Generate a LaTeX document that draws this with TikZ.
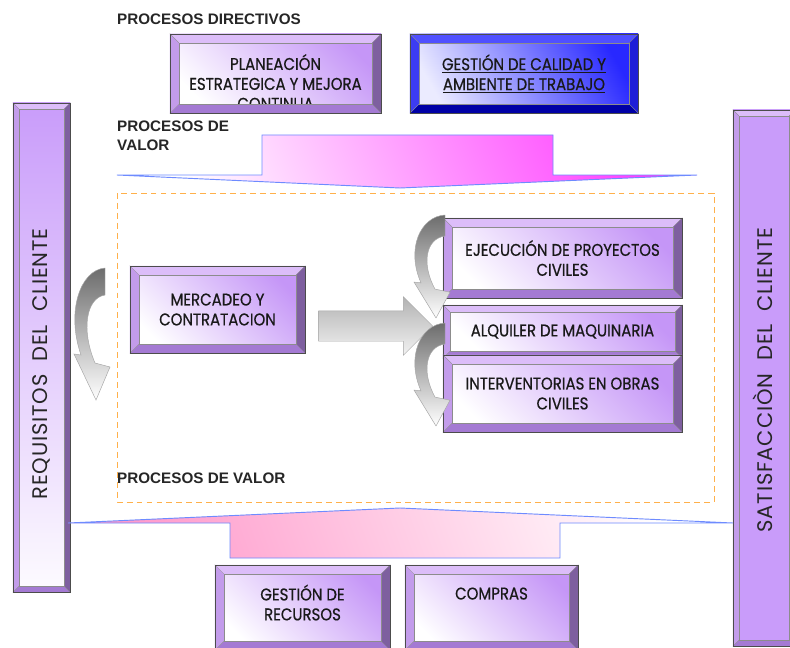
\documentclass[tikz,border=0pt]{standalone}
\usepackage{fontspec}
\setmainfont{Liberation Sans}
\newfontfamily\boxfont[FakeStretch=0.88, FakeBold=0.6]{Poppins}
\newfontfamily\barfont[LetterSpace=4]{Poppins}
\usepackage{tikz}
\usetikzlibrary{shapes.arrows, positioning, calc}

\definecolor{puface}{HTML}{C596F7}
\definecolor{putop}{HTML}{DCBDF9}
\definecolor{puleft}{HTML}{C39CEB}
\definecolor{puright}{HTML}{7E5F9F}
\definecolor{pubot}{HTML}{A47AD3}
\definecolor{blface}{HTML}{2828FF}
\definecolor{bltop}{HTML}{5050FF}
\definecolor{blleft}{HTML}{3C3CF2}
\definecolor{blright}{HTML}{1E1ED8}
\definecolor{blbot}{HTML}{0000A6}
\definecolor{magm}{HTML}{FF40FF}
\definecolor{pinkb}{HTML}{FF9ACB}
\definecolor{valline}{HTML}{6E8BFF}
\definecolor{frameor}{HTML}{FFB04A}
\definecolor{barpu}{HTML}{C99CFA}

% bevelled rim drawn over a box node: [rim width]{node}{colour prefix}
\newcommand\bevel[3][9]{%
  \fill[#3top] (#2.north west) -- (#2.north east) -- ([shift={(-#1,#1)}]#2.north east) -- ([shift={(#1,#1)}]#2.north west) -- cycle;
  \fill[#3bot] (#2.south west) -- (#2.south east) -- ([shift={(-#1,-#1)}]#2.south east) -- ([shift={(#1,-#1)}]#2.south west) -- cycle;
  \fill[#3left] (#2.north west) -- (#2.south west) -- ([shift={(#1,-#1)}]#2.south west) -- ([shift={(#1,#1)}]#2.north west) -- cycle;
  \fill[#3right] (#2.north east) -- (#2.south east) -- ([shift={(-#1,-#1)}]#2.south east) -- ([shift={(-#1,#1)}]#2.north east) -- cycle;
  \draw[bevline] ([shift={(#1,#1)}]#2.north west) rectangle ([shift={(-#1,-#1)}]#2.south east);
  \draw[bevline] (#2.north west) -- ++(#1,#1) (#2.north east) -- ++(-#1,#1)
                 (#2.south west) -- ++(#1,-#1) (#2.south east) -- ++(-#1,-#1);
  \draw[bevline, draw=black!70] (#2.north west) rectangle (#2.south east);
}

\tikzset{
  bendarrow/.pic={
    \shade[top color=gray!85!black, bottom color=white, draw=gray!70, line width=0.4pt]
      (0,0) .. controls (-25,2) and (-39,44) .. (-24,87)
      -- (-31,86) -- (-9,132) -- (5,99) -- (-10,95)
      .. controls (-24,62) and (-19,30) .. (0,27) -- cycle;
  }
}

\begin{document}
\begin{tikzpicture}[x=0.3mm, y=-0.3mm,
  boxsize/.style 2 args={minimum width=#1*0.3mm, minimum height=#2*0.3mm},
  pubox/.style={draw=black!70, line width=0.4pt, left color=white, right color=puface,
    shading angle=135, align=center, inner sep=0pt, text=black!90,
    font=\boxfont\fontsize{14.5}{17}\selectfont},
  blbox/.style={pubox, left color=white!92!blue, right color=blface, shading angle=120},
  bevline/.style={draw=black!45, line width=0.3pt},
  head/.style={font=\bfseries\fontsize{13}{16}\selectfont, inner sep=0pt, text=black!85},
  bartext/.style={font=\barfont\fontsize{18}{20}\selectfont, rotate=90, inner sep=0pt, text=black!85},
  valarrow/.style={draw=valline, line width=0.8pt},
  flowarrow/.style={single arrow, single arrow head extend=14*0.3mm, inner xsep=0pt,
    inner ysep=15*0.3mm, draw=gray!70, line width=0.4pt, top color=gray!60, bottom color=gray!10}]

\useasboundingbox (0,0) rectangle (790,648);
\clip (0,0) rectangle (790,648);
\fill[white] (0,0) rectangle (790,648);

% directive processes
\node[head, anchor=west] (dirtitle) at (117,19) {PROCESOS DIRECTIVOS};
\node[pubox, boxsize={211}{79}, text height=62pt] (plan) at (275.5,73.5)
  {PLANEACIÓN\\ESTRATEGICA Y MEJORA\\CONTINUA};
\bevel{plan}{pu}
\node[blbox, boxsize={228}{79}] (qual) at (524,73.5)
  {\underline{GESTIÓN DE CALIDAD Y}\\\underline{AMBIENTE DE TRABAJO}};
\bevel{qual}{bl}

% customer bars
\node[pubox, boxsize={57}{489}, top color=barpu, bottom color=white!96!barpu] (req) at (41.5,347.5) {};
\bevel[6]{req}{pu}
\node[bartext] (reqtext) at (41,364) {REQUISITOS\ \ DEL\ \ CLIENTE};
\node[pubox, boxsize={62}{536}, top color=barpu, middle color=white!93!barpu, bottom color=barpu] (sat) at (764,378) {};
\bevel[6]{sat}{pu}
\node[bartext] (sattext) at (763,380) {SATISFACCIÒN\ \ DEL\ \ CLIENTE};

% value arrows
\node[head, anchor=north west, align=left, font=\bfseries\fontsize{13}{16}\selectfont] (valtop) at (117,121) {PROCESOS DE\\VALOR};
\shade[valarrow, left color=white, right color=magm, shading angle=112]
  (117,175) -- (262,175) -- (262,135) -- (553,135) -- (553,175) -- (697,175) -- (400,188) -- cycle;
\shade[valarrow, left color=pinkb, right color=white, shading angle=110]
  (68,523) -- (400,508) -- (733,523) -- (560,523) -- (560,558) -- (230,558) -- (230,523) -- cycle;

\draw[frameor, line width=0.8pt, dash pattern=on 5pt off 3.5pt] (117,193) rectangle (714,502);
\node[head, anchor=west] (valbot) at (117,478) {PROCESOS DE VALOR};

% core processes
\node[pubox, boxsize={175}{87}] (merc) at (217.5,309.5) {MERCADEO Y\\CONTRATACION};
\bevel{merc}{pu}
\node[flowarrow, minimum height=114*0.3mm] (flow) at (368,326) {};

\node[pubox, boxsize={239}{80}] (ejec) at (562.5,258) {EJECUCIÓN DE PROYECTOS\\CIVILES};
\bevel{ejec}{pu}
\node[pubox, boxsize={239}{53}] (alq) at (562.5,331.5) {ALQUILER DE MAQUINARIA};
\bevel[7]{alq}{pu}
\node[pubox, boxsize={239}{77}] (inter) at (562.5,393.5) {INTERVENTORIAS EN OBRAS\\CIVILES};
\bevel{inter}{pu}

\pic at (105,268) {bendarrow};
\pic[yscale=0.78] at (445,215) {bendarrow};
\pic[yscale=0.78] at (445,323) {bendarrow};

% support processes
\node[pubox, boxsize={175}{85}, text depth=10*0.3mm] (recur) at (302.5,607.5) {GESTIÓN DE\\RECURSOS};
\bevel{recur}{pu}
\node[pubox, boxsize={173}{85}, text depth=28*0.3mm] (comp) at (491.5,607.5) {COMPRAS};
\bevel{comp}{pu}

\end{tikzpicture}
\end{document}
